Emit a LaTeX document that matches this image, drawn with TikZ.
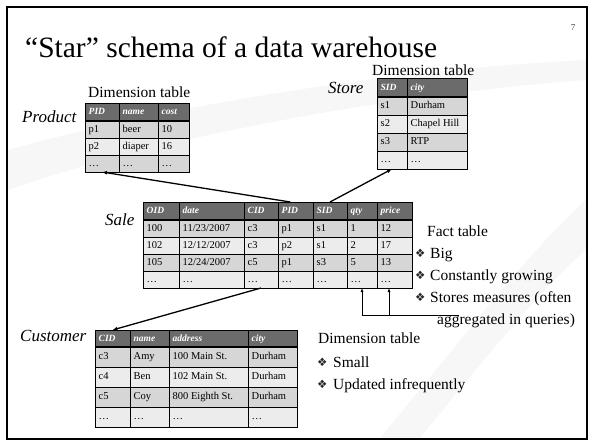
\documentclass[tikz,border=0pt]{standalone}
\usepackage{fontspec}
\setmainfont{Liberation Serif}
\newfontfamily\symf{DejaVu Sans}
\usetikzlibrary{calc,arrows.meta}
\definecolor{hdr}{HTML}{6B6B6B}
\definecolor{rowA}{HTML}{D6D6D6}
\definecolor{rowB}{HTML}{ECECEC}
\definecolor{swoosh}{HTML}{F7F7F7}
\tikzset{
  cell/.style={draw=black, line width=0.8pt, inner sep=0pt, outer sep=0pt},
  btext/.style={font=\fontsize{10.5}{12}\selectfont, text=black, inner sep=0pt, text height=1.6ex, text depth=.45ex},
  htext/.style={font=\fontsize{9.5}{11}\selectfont\bfseries\itshape, text=white, inner sep=0pt, text height=1.6ex, text depth=.45ex},
  lab/.style={font=\fontsize{15.5}{18}\selectfont, inner sep=0pt},
  tname/.style={font=\fontsize{17}{19}\selectfont\itshape, inner sep=0pt},
  bul/.style={font=\symf\fontsize{11.5}{12}\selectfont, text=black!85, inner sep=0pt},
  conn/.style={line width=1.3pt, -{Latex[length=5pt,width=4pt]}},
  thin/.style={line width=0.8pt},
  thinarr/.style={line width=0.8pt, -{Latex[length=4pt,width=3pt]}},
}
% name, idx, top, height, fill, text style, cells
\newcommand\trow[7]{%
  \foreach \xa/\xb/\t [count=\j] in {#7} {
    \node[cell, fill=#5, minimum width={(\xb-\xa)*1pt}, minimum height=#4pt, anchor=north west] (#1-#2-\j) at (\xa,#3) {};
    \node[#6, anchor=west] (#1-#2-\j-t) at ($(#1-#2-\j.west)+(3.5,0)$) {\t};
  }}
\begin{document}
\begin{tikzpicture}[x=1pt,y=-1pt]
\useasboundingbox (0,0) rectangle (592,444);
\fill[white] (0,0) rectangle (592,444);
% faint background swooshes
\fill[swoosh] (8,150) .. controls (150,110) and (380,70) .. (586,60) -- (586,80) .. controls (380,95) and (150,140) .. (8,190) -- cycle;
\fill[swoosh] (380,438) .. controls (470,330) and (530,250) .. (586,200) -- (586,438) -- cycle;
\fill[white] (420,438) .. controls (500,340) and (550,280) .. (586,250) -- (586,438) -- cycle;
% frame
\draw[line width=2pt] (7,7) rectangle (587,439);

% title and page number
\node[anchor=base west, font=\fontsize{29.5}{32}\selectfont, inner sep=0pt] (title) at (25,58) {“Star” schema of a data warehouse};
\node[font=\fontsize{9}{10}\selectfont, text=black!75, inner sep=0pt] (pg) at (573,28) {7};

% Product table
\trow{p}{0}{103}{18}{hdr}{htext}{85/119/PID,119/158/name,158/189/cost}
\trow{p}{1}{121}{17}{rowA}{btext}{85/119/p1,119/158/beer,158/189/10}
\trow{p}{2}{138}{17}{rowB}{btext}{85/119/p2,119/158/diaper,158/189/16}
\trow{p}{3}{155}{17}{rowA}{btext}{85/119/…,119/158/…,158/189/…}
\draw[line width=2pt] (p-0-1.south west) -- (p-0-3.south east);
\node[lab, anchor=base west] (pdim) at (88,97) {Dimension table};
\node[tname, anchor=base west] (pname) at (22,122) {Product};

% Store table
\trow{st}{0}{78}{19}{hdr}{htext}{377/407/SID,407/467/city}
\trow{st}{1}{97}{18}{rowA}{btext}{377/407/s1,407/467/Durham}
\trow{st}{2}{115}{18}{rowB}{btext}{377/407/s2,407/467/Chapel Hill}
\trow{st}{3}{133}{18}{rowA}{btext}{377/407/s3,407/467/RTP}
\trow{st}{4}{151}{18}{rowB}{btext}{377/407/…,407/467/…}
\draw[line width=2pt] (st-0-1.south west) -- (st-0-2.south east);
\node[lab, anchor=base west] (stdim) at (372,76) {Dimension table};
\node[tname, anchor=base west] (stname) at (328,93) {Store};

% Sale table
\trow{s}{0}{202}{18}{hdr}{htext}{143/179/OID,179/244/date,244/278/CID,278/313/PID,313/347/SID,347/377/qty,377/412/price}
\trow{s}{1}{220}{17}{rowA}{btext}{143/179/100,179/244/{11/23/2007},244/278/c3,278/313/p1,313/347/s1,347/377/1,377/412/12}
\trow{s}{2}{237}{17}{rowB}{btext}{143/179/102,179/244/{12/12/2007},244/278/c3,278/313/p2,313/347/s1,347/377/2,377/412/17}
\trow{s}{3}{254}{17}{rowA}{btext}{143/179/105,179/244/{12/24/2007},244/278/c5,278/313/p1,313/347/s3,347/377/5,377/412/13}
\trow{s}{4}{271}{17}{rowB}{btext}{143/179/…,179/244/…,244/278/…,278/313/…,313/347/…,347/377/…,377/412/…}
\draw[line width=2pt] (s-0-1.south west) -- (s-0-7.south east);
\node[tname, anchor=base west] (sname) at (105,225) {Sale};

% Customer table
\trow{c}{0}{330}{17}{hdr}{htext}{95/130/CID,130/169/name,169/248/address,248/297/city}
\trow{c}{1}{347}{20}{rowA}{btext}{95/130/c3,130/169/Amy,169/248/100 Main St.,248/297/Durham}
\trow{c}{2}{367}{20}{rowB}{btext}{95/130/c4,130/169/Ben,169/248/102 Main St.,248/297/Durham}
\trow{c}{3}{387}{20}{rowA}{btext}{95/130/c5,130/169/Coy,169/248/800 Eighth St.,248/297/Durham}
\trow{c}{4}{407}{20}{rowB}{btext}{95/130/…,130/169/…,169/248/…,248/297/…}
\draw[line width=2pt] (c-0-1.south west) -- (c-0-4.south east);
\node[tname, anchor=base west] (cname) at (20,341) {Customer};

% connectors
\draw[conn] ($(s-0-4.north west)!0.35!(s-0-4.north east)$) -- (p-3-1.south);
\draw[conn] (s-0-5.north) -- (st-4-1.south);
\draw[conn] (s-4-3.south) -- (c-0-1.north);

% measures bracket
\coordinate (br) at (459,315);
\coordinate (b2) at (389,315);
\draw[thin] (s-4-6.south |- br) -- (br);
\draw[thinarr] (s-4-6.south |- br) -- (s-4-6.south);
\draw[thinarr] (b2) -- (b2 |- s-4-7.south);

% fact table notes
\node[lab, anchor=base west] (fact) at (427,236) {Fact table};
\node[bul, anchor=base west] (fb1) at (415,257) {❖};
\node[lab, anchor=base west] (ft1) at (430,258) {Big};
\node[bul, anchor=base west] (fb2) at (415,279) {❖};
\node[lab, anchor=base west] (ft2) at (430,280) {Constantly growing};
\node[bul, anchor=base west] (fb3) at (415,301) {❖};
\node[lab, anchor=base west] (ft3) at (430,302) {Stores measures (often};
\node[lab, anchor=base west] (ft4) at (437,324) {aggregated in queries)};

% dimension table notes
\node[lab, anchor=base west] (dim) at (318,343) {Dimension table};
\node[bul, anchor=base west] (db1) at (317,366) {❖};
\node[lab, anchor=base west] (dt1) at (333,367) {Small};
\node[bul, anchor=base west] (db2) at (317,388) {❖};
\node[lab, anchor=base west] (dt2) at (333,389) {Updated infrequently};
\end{tikzpicture}
\end{document}
